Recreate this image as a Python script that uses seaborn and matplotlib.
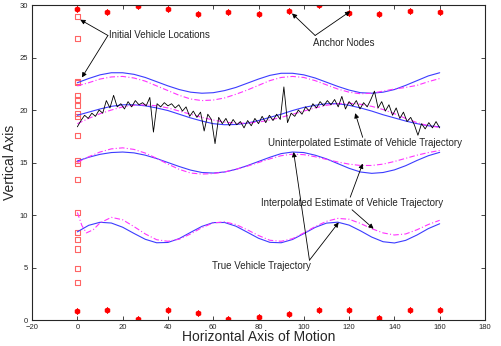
import numpy as np
import pandas as pd
import matplotlib
matplotlib.use("Agg")
import matplotlib.pyplot as plt
import seaborn as sns

# ---- data ----

# anchor nodes (top row and bottom row)
anchor_x = [0, 13.3, 26.7, 40, 53.3, 66.7, 80, 93.3, 106.7, 120, 133.3, 146.7, 160]
anchor_top_y = [29.6, 29.3, 29.9, 29.65, 29.1, 29.3, 29.1, 29.4, 30.0, 29.2, 29.1, 29.4, 29.3]
anchor_bot_y = [0.83, 0.95, 0.13, 0.92, 0.64, 0.1, 0.29, 0.57, 0.98, 0.98, 0.19, 0.98, 0.98]

# initial vehicle locations (all at x = 0)
init_y = [28.9, 26.8, 22.7, 22.6, 21.4, 21.0, 20.45, 19.7, 19.4, 17.6,
          15.2, 14.9, 13.4, 10.25, 8.35, 7.7, 6.76, 4.9, 3.6]

# common x grid for the smooth trajectories
traj_x = [0, 5, 10, 15, 20, 25, 30, 35, 40, 45, 50, 55, 60, 65, 70, 75, 80,
          85, 90, 95, 100, 105, 110, 115, 120, 125, 130, 135, 140, 145, 150, 155, 160]

true_1 = [22.6, 23.0, 23.35, 23.55, 23.55, 23.4, 23.1, 22.7, 22.3, 21.95, 21.7,
          21.6, 21.65, 21.85, 22.15, 22.55, 22.95, 23.3, 23.5, 23.5, 23.35, 23.05,
          22.65, 22.25, 21.9, 21.65, 21.6, 21.7, 21.95, 22.35, 22.8, 23.25, 23.55]
est_1 = [22.3, 22.6, 22.95, 23.15, 23.2, 23.05, 22.75, 22.3, 21.85, 21.4, 21.05,
         20.9, 20.95, 21.15, 21.5, 21.9, 22.35, 22.8, 23.1, 23.2, 23.1, 22.8,
         22.4, 22.0, 21.7, 21.55, 21.6, 21.8, 22.0, 22.15, 22.35, 22.7, 23.0]

true_2 = [19.5, 19.8, 20.1, 20.35, 20.5, 20.5, 20.4, 20.2, 19.95, 19.6, 19.25,
          18.95, 18.7, 18.6, 18.62, 18.75, 19.0, 19.3, 19.6, 19.95, 20.25, 20.45,
          20.6, 20.6, 20.45, 20.2, 19.9, 19.55, 19.25, 18.95, 18.7, 18.5, 18.4]
est_2 = [18.7, 19.2, 19.65, 20.0, 20.3, 20.45, 20.5, 20.4, 20.2, 19.9, 19.6,
         19.3, 19.05, 18.85, 18.75, 18.75, 18.85, 19.05, 19.3, 19.6, 19.9, 20.2,
         20.45, 20.6, 20.65, 20.55, 20.35, 20.05, 19.65, 19.2, 18.8, 18.5, 18.35]

true_3 = [15.15, 15.5, 15.78, 15.95, 16.0, 15.92, 15.7, 15.38, 15.0, 14.62, 14.28,
          14.05, 14.0, 14.1, 14.35, 14.7, 15.1, 15.5, 15.85, 16.0, 15.95, 15.7,
          15.35, 14.9, 14.45, 14.1, 13.97, 14.05, 14.3, 14.7, 15.2, 15.65, 15.97]
est_3 = [15.0, 15.55, 16.0, 16.3, 16.4, 16.25, 15.9, 15.4, 14.85, 14.35, 14.0,
         13.9, 13.95, 14.1, 14.35, 14.65, 15.0, 15.35, 15.65, 15.8, 15.75, 15.55,
         15.3, 15.05, 14.85, 14.72, 14.72, 14.85, 15.1, 15.4, 15.7, 15.95, 16.15]

true_4 = [8.4, 9.02, 9.31, 9.24, 8.84, 8.25, 7.69, 7.36, 7.39, 7.76, 8.35,
          8.92, 9.28, 9.29, 8.94, 8.37, 7.79, 7.4, 7.36, 7.67, 8.23, 8.82,
          9.23, 9.32, 9.04, 8.5, 7.9, 7.46, 7.34, 7.59, 8.1, 8.71, 9.17]
est_4_x = [0, 2, 4, 7, 10, 15, 20, 25, 30, 35, 40, 45, 50, 55, 60, 65, 70, 75, 80,
           85, 90, 95, 100, 105, 110, 115, 120, 125, 130, 135, 140, 145, 150, 155, 160]
est_4 = [10.25, 9.0, 8.3, 8.6, 9.25, 9.78, 9.55, 8.9, 8.2, 7.65, 7.5, 7.7, 8.2,
         8.8, 9.25, 9.35, 9.1, 8.6, 8.05, 7.6, 7.5, 7.75, 8.3, 8.9, 9.4, 9.68,
         9.6, 9.2, 8.7, 8.3, 8.1, 8.2, 8.6, 9.1, 9.5]

# raw (uninterpolated) estimate for vehicle 2
raw_y = [18.4, 19.0, 19.5, 19.2, 19.7, 19.4, 20.0, 19.7, 20.9, 20.2, 21.4, 20.3,
         20.6, 20.1, 20.8, 20.3, 20.9, 20.5, 20.7, 20.4, 21.2, 17.9, 20.6, 20.3,
         20.7, 20.4, 20.6, 20.2, 20.5, 19.9, 20.3, 19.4, 19.9, 19.3, 19.8, 18.0,
         19.6, 19.1, 16.8, 19.3, 18.7, 19.2, 18.5, 19.1, 18.6, 18.9, 18.3, 19.0,
         18.5, 19.2, 18.7, 19.4, 18.8, 19.5, 19.0, 19.6, 19.1, 22.2, 18.8, 19.7,
         19.4, 20.0, 19.6, 20.3, 19.9, 20.6, 20.2, 20.8, 20.4, 20.9, 20.5, 21.0,
         20.3, 21.3, 20.1, 20.8, 20.4, 20.9, 20.1, 20.7, 20.3, 21.0, 21.8, 20.2,
         20.8, 19.9, 20.5, 19.5, 20.2, 19.2, 19.8, 18.9, 19.3, 18.6, 17.6, 18.7,
         18.2, 18.8, 18.3, 18.9, 18.3]
raw_x = np.linspace(0, 160, len(raw_y))

# ---- plotting ----
sns.set_style("ticks")
plt.rcParams["font.family"] = ["Liberation Sans", "DejaVu Sans"]

fig = plt.figure(figsize=(5.01, 3.46), dpi=100)
ax = fig.add_axes([0.064, 0.075, 0.904, 0.9105])

blue = "#3c3cff"
magenta = "#ff33ff"
dashdot = (5, 2, 1, 2)

for t, e, ex in [(true_1, est_1, traj_x), (true_2, est_2, traj_x),
                 (true_3, est_3, traj_x), (true_4, est_4, est_4_x)]:
    sns.lineplot(x=traj_x, y=t, ax=ax, color=blue, lw=0.8, sort=False, estimator=None)
    line = sns.lineplot(x=ex, y=e, ax=ax, color=magenta, lw=0.8, sort=False, estimator=None)
    line.lines[-1].set_dashes(dashdot)

sns.lineplot(x=raw_x, y=raw_y, ax=ax, color="black", lw=0.6, sort=False, estimator=None)

# initial locations
sns.scatterplot(x=[0] * len(init_y), y=init_y, ax=ax, marker="s", s=14,
                facecolor="none", edgecolor="#ff6464", linewidth=0.8)

# anchor nodes
for ys in [anchor_top_y, anchor_bot_y]:
    sns.scatterplot(x=anchor_x, y=ys, ax=ax, marker="o", s=16, color="red",
                    edgecolor="red", linewidth=0)
    sns.scatterplot(x=anchor_x, y=ys, ax=ax, marker=(6, 2, 0), s=14, color="red",
                    linewidth=0.7)

# annotations
arrow = dict(arrowstyle="-|>", color="black", lw=0.6, mutation_scale=7,
             shrinkA=0, shrinkB=0)
fs = 7
ax.annotate("", xy=(1.3, 28.6), xytext=(13.5, 27.1), arrowprops=arrow)
ax.annotate("", xy=(2.0, 23.1), xytext=(13.5, 27.1), arrowprops=arrow)
ax.text(13.8, 27.1, "Initial Vehicle Locations", fontsize=fs, va="center", ha="left")

ax.annotate("", xy=(94.8, 29.2), xytext=(105, 27.1), arrowprops=arrow)
ax.annotate("", xy=(120.5, 29.4), xytext=(105, 27.1), arrowprops=arrow)
ax.text(104, 26.4, "Anchor Nodes", fontsize=fs, va="center", ha="left")

ax.annotate("", xy=(122.7, 19.7), xytext=(126, 17.4), arrowprops=arrow)
ax.text(84, 16.9, "Uninterpolated Estimate of Vehicle Trajectory", fontsize=fs,
        va="center", ha="left")

ax.annotate("", xy=(126, 14.9), xytext=(120.5, 11.7), arrowprops=arrow)
ax.annotate("", xy=(130.8, 8.7), xytext=(121.3, 10.5), arrowprops=arrow)
ax.text(81, 11.1, "Interpolated Estimate of Vehicle Trajectory", fontsize=fs,
        va="center", ha="left")

ax.annotate("", xy=(95.5, 16.0), xytext=(102.5, 5.7), arrowprops=arrow)
ax.annotate("", xy=(115.4, 9.3), xytext=(102.5, 5.7), arrowprops=arrow)
ax.text(59.5, 5.1, "True Vehicle Trajectory", fontsize=fs, va="center", ha="left")

ax.set_xlim(-20, 180)
ax.set_ylim(0, 30)
ax.set_xticks(range(-20, 181, 20))
ax.set_yticks(range(0, 31, 5))
ax.tick_params(direction="in", top=True, right=True, labelsize=5.5, length=3,
               width=0.6)
ax.tick_params(axis="x", pad=3)
ax.tick_params(axis="y", pad=3)
for s in ax.spines.values():
    s.set_linewidth(0.8)
    s.set_visible(True)
ax.set_xlabel("Horizontal Axis of Motion", fontsize=10, labelpad=-1)
ax.set_ylabel("Vertical Axis", fontsize=10, labelpad=2)

fig.savefig("out.png", dpi=100)
